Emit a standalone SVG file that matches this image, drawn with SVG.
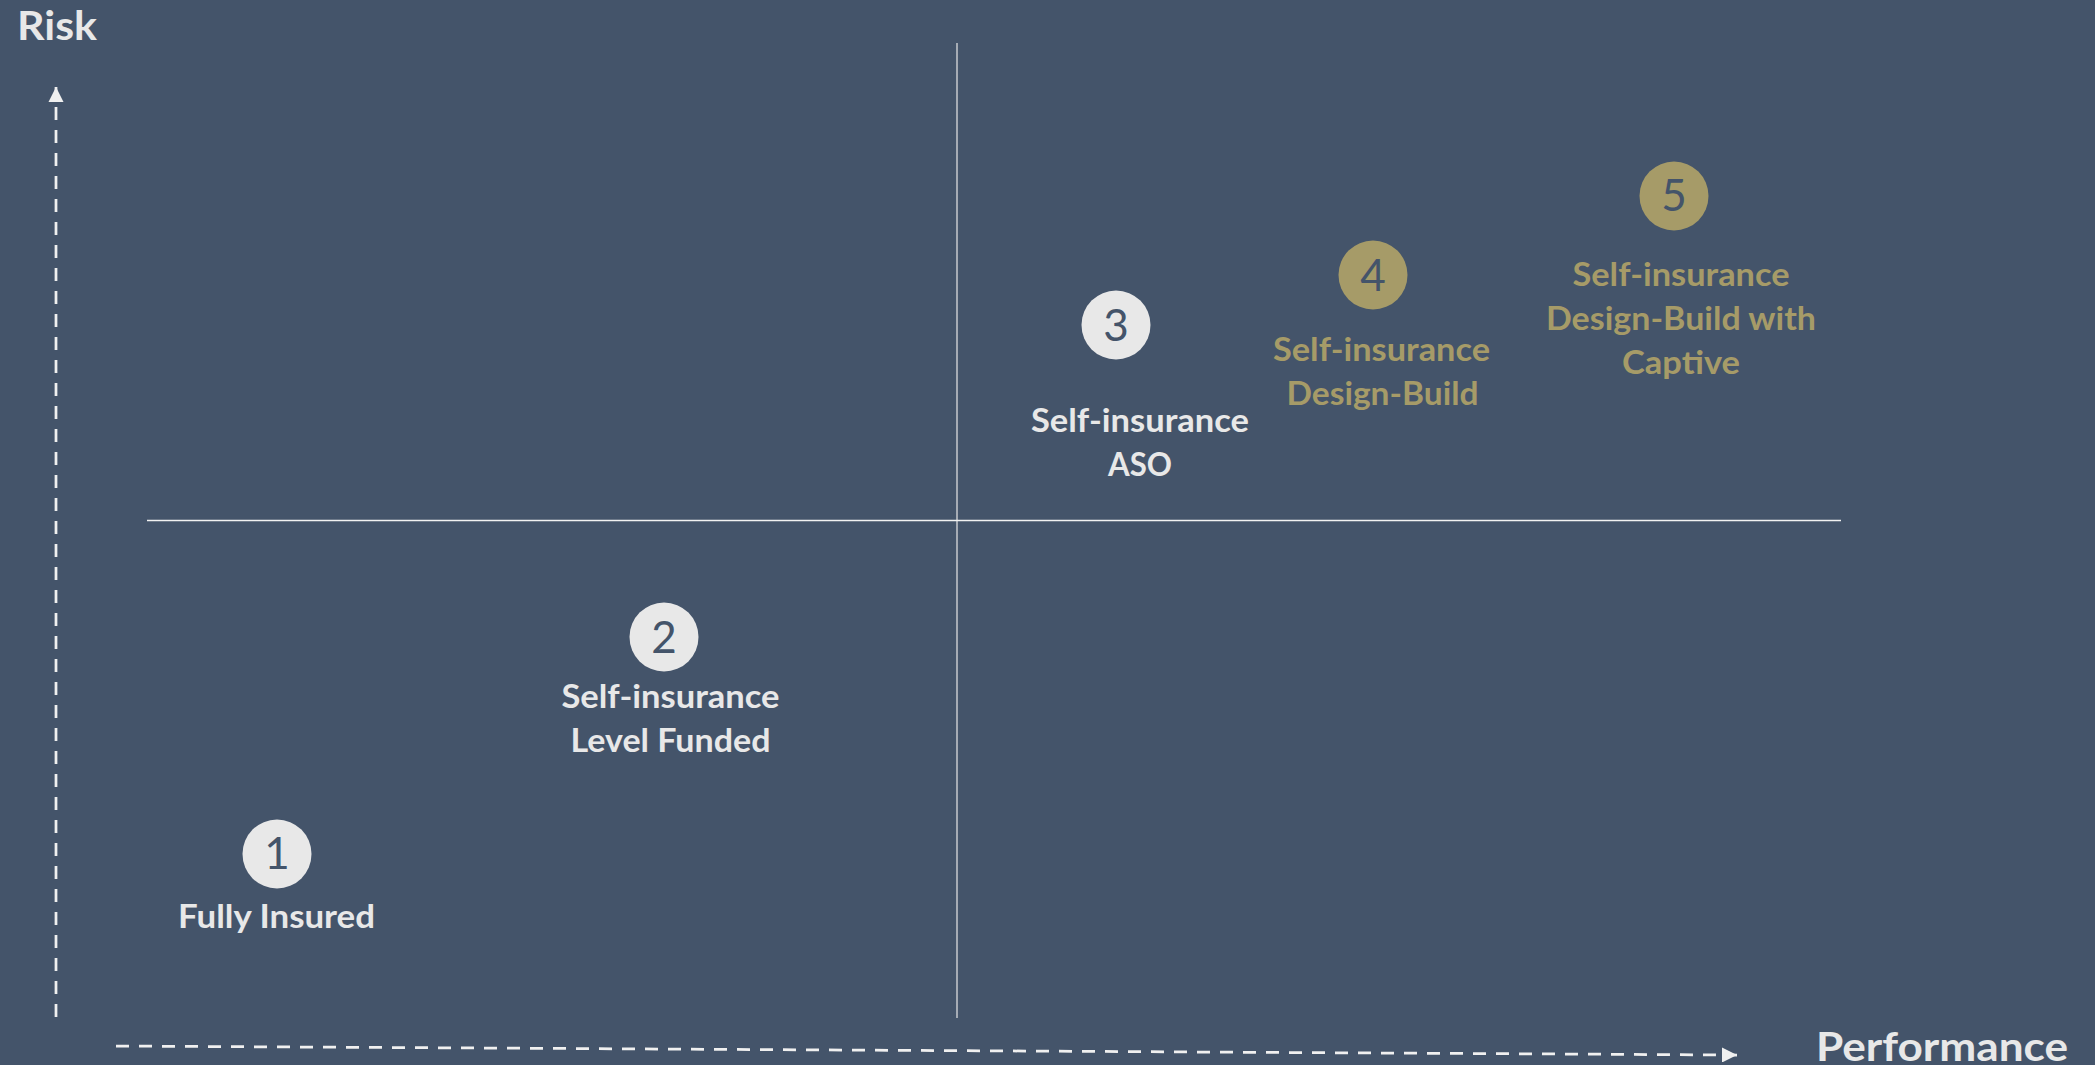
<svg xmlns="http://www.w3.org/2000/svg" width="2095" height="1065" viewBox="0 0 2095 1065">
  <style>
    .lbl { font-family: Lato, "Open Sans", sans-serif; font-weight: 700; font-size: 32px; text-anchor: middle; }
    .light { fill: #E8E8E8; }
    .gold { fill: #A69B68; }
    .num { font-family: Lato, "Open Sans", sans-serif; font-weight: 400; font-size: 44px; text-anchor: middle; fill: #44546A; }
    .axis { font-family: Lato, "Open Sans", sans-serif; font-weight: 700; font-size: 40px; fill: #E8E8E8; }
    .dash { stroke: #F0F0F0; stroke-width: 2.75; fill: none; stroke-dasharray: 13 10; }
  </style>
  <defs>
    <marker id="ah" viewBox="0 0 10 10" refX="10" refY="5" markerWidth="5.5" markerHeight="5.5" orient="auto" markerUnits="strokeWidth">
      <path d="M0,0 L10,5 L0,10 Z" fill="#F0F0F0"/>
    </marker>
  </defs>
  <rect x="0" y="0" width="2095" height="1065" fill="#44546A"/>

  <g id="quadrants">
    <line x1="957" y1="43" x2="957" y2="1018" stroke="#BFC2C8" stroke-width="1.6"/>
    <line x1="147" y1="520.5" x2="1841" y2="520.5" stroke="#F2F2F2" stroke-width="1.4"/>
  </g>

  <g id="connectors">
    <line class="dash" x1="56" y1="1017" x2="56" y2="87" marker-end="url(#ah)"/>
    <line class="dash" x1="116" y1="1046" x2="1737" y2="1055" marker-end="url(#ah)"/>
  </g>

  <g id="axis-labels">
    <text class="axis" x="17" y="40" textLength="80" lengthAdjust="spacingAndGlyphs">Risk</text>
    <text class="axis" x="1816" y="1061" textLength="252" lengthAdjust="spacingAndGlyphs">Performance</text>
  </g>

  <g id="node1">
    <circle cx="277" cy="854" r="34.5" fill="#E8E8E8"/>
    <text class="num" x="277" y="869">1</text>
    <text class="lbl light" x="276.5" y="928" textLength="197" lengthAdjust="spacingAndGlyphs">Fully Insured</text>
  </g>

  <g id="node2">
    <circle cx="664" cy="637" r="34.5" fill="#E8E8E8"/>
    <text class="num" x="664" y="653">2</text>
    <text class="lbl light" x="670.5" y="707.5" textLength="218" lengthAdjust="spacingAndGlyphs">Self-insurance</text>
    <text class="lbl light" x="670.5" y="751.5" textLength="200" lengthAdjust="spacingAndGlyphs">Level Funded</text>
  </g>

  <g id="node3">
    <circle cx="1116" cy="325" r="34.5" fill="#E8E8E8"/>
    <text class="num" x="1116" y="341">3</text>
    <text class="lbl light" x="1140" y="431.5" textLength="218" lengthAdjust="spacingAndGlyphs">Self-insurance</text>
    <text class="lbl light" x="1140" y="475.5" textLength="64" lengthAdjust="spacingAndGlyphs">ASO</text>
  </g>

  <g id="node4">
    <circle cx="1373" cy="275" r="34.5" fill="#A69B68"/>
    <text class="num" x="1373" y="291">4</text>
    <text class="lbl gold" x="1381.5" y="360.5" textLength="217" lengthAdjust="spacingAndGlyphs">Self-insurance</text>
    <text class="lbl gold" x="1382.5" y="404.5" textLength="192" lengthAdjust="spacingAndGlyphs">Design-Build</text>
  </g>

  <g id="node5">
    <circle cx="1674" cy="196" r="34.5" fill="#A69B68"/>
    <text class="num" x="1674" y="211">5</text>
    <text class="lbl gold" x="1681" y="285.5" textLength="217" lengthAdjust="spacingAndGlyphs">Self-insurance</text>
    <text class="lbl gold" x="1681" y="329.5" textLength="270" lengthAdjust="spacingAndGlyphs">Design-Build with</text>
    <text class="lbl gold" x="1681" y="373.5" textLength="118" lengthAdjust="spacingAndGlyphs">Captive</text>
  </g>
</svg>
